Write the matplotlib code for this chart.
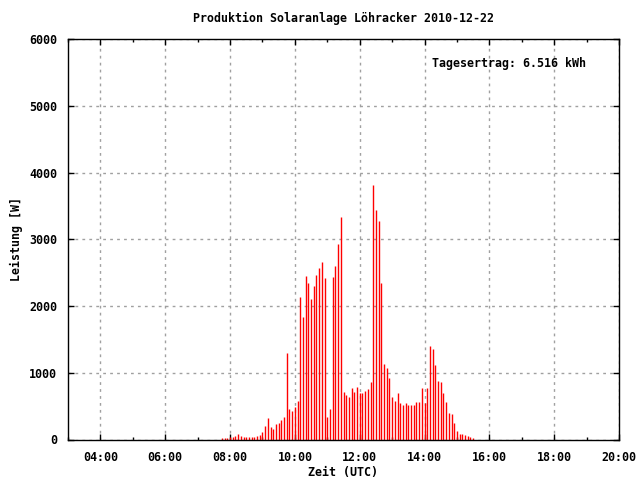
import numpy as np
import pandas as pd
from matplotlib import pyplot as plt

# 5-minute power readings from 07:45 to 15:30 (UTC), in W
start = '2010-12-22 07:45'
leistung = [15, 15, 15, 30, 35, 50, 75, 45, 35, 35, 35, 35, 35, 50, 60,
            110, 195, 315, 180, 155, 230, 245, 290, 330, 1290, 455, 425, 480, 570,
            2140, 1840, 2450, 2350, 2110, 2300, 2470, 2570, 2660, 2420,
            330, 450, 2440, 2600, 2930, 3335,
            705, 660, 630, 765, 705, 780, 690, 690, 720, 750, 855,
            3815, 3440, 3275, 2350, 1135, 1075, 925,
            630, 580, 690, 550, 520, 550, 520, 520, 520, 565, 565, 765,
            550, 765, 1405, 1360, 1120, 870, 855, 690, 565, 390, 375, 240,
            120, 75, 75, 60, 45, 30, 15]
tick_labels = ['04:00', '06:00', '08:00', '10:00', '12:00', '14:00', '16:00', '18:00', '20:00']
titel = 'Produktion Solaranlage Löhracker 2010-12-22'
ertrag = 'Tagesertrag: 6.516 kWh'

zeit = pd.date_range(start, periods=len(leistung), freq='5min')
stunden = zeit.hour + zeit.minute / 60.0

plt.rcParams['font.family'] = ['DejaVu Sans Mono']
plt.rcParams['font.weight'] = 'bold'
plt.rcParams['font.size'] = 8.4

fig = plt.figure(figsize=(6.4, 4.8), dpi=100)
ax = fig.add_axes([68 / 640, 1 - 439.5 / 480, (619 - 68) / 640, (439.5 - 39) / 480])

ax.vlines(stunden, 0, leistung, colors='#ff0000', linewidth=1.0)

ax.set_xlim(3, 20)
ax.set_ylim(0, 6000)
ax.set_xticks(range(4, 21, 2))
ax.set_xticklabels(tick_labels)
ax.set_xticks(range(3, 21), minor=True)
ax.set_yticks(range(0, 6001, 1000))

ax.grid(True, which='major', color='#a0a0a0', linestyle=(0, (2, 3)), linewidth=1.0)
ax.tick_params(which='both', direction='in', top=True, right=True, width=1.0)
ax.tick_params(which='major', length=4, pad=8)
ax.tick_params(which='minor', length=2)
for s in ax.spines.values():
    s.set_linewidth(1.0)

ax.set_title(titel, fontsize=8.4, fontweight='bold', pad=12)
ax.set_xlabel('Zeit (UTC)', fontweight='bold', labelpad=2)
ax.set_ylabel('Leistung [W]', fontweight='bold', labelpad=4)
ax.text(0.940, 0.955, ertrag, transform=ax.transAxes, ha='right', va='top')

fig.savefig('out.png', dpi=100)
